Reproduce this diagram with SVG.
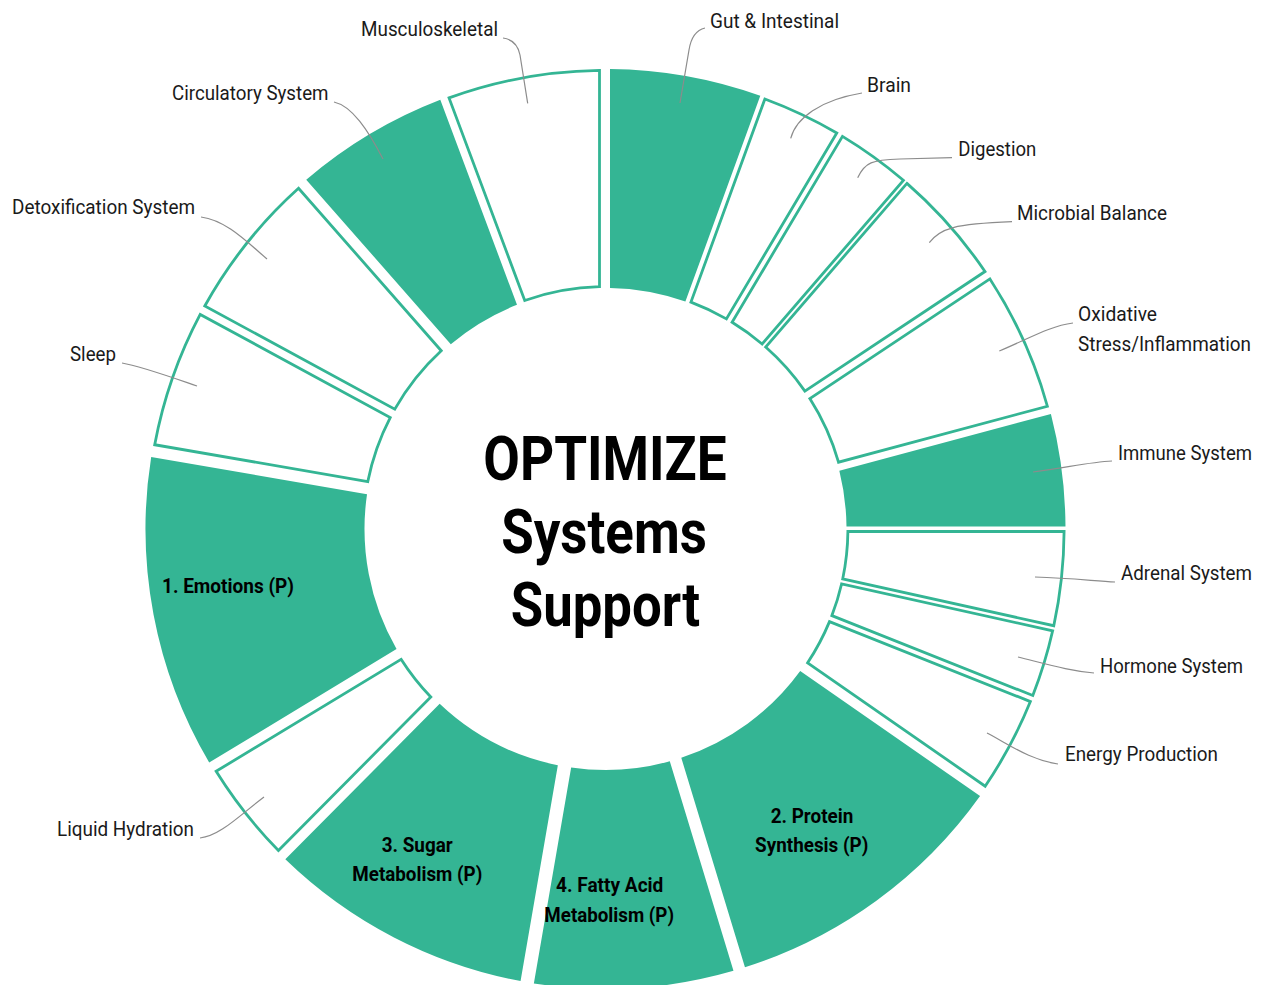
<svg xmlns="http://www.w3.org/2000/svg" width="1264" height="985" viewBox="0 0 1264 985">
<style>
.f{fill:#34b594;stroke:none}
.o{fill:#fff;stroke:#34b594;stroke-width:2.8;stroke-linejoin:miter}
.lbl{font-family:Roboto,"Liberation Sans",sans-serif;font-size:20px;fill:#1a1a1a}
.seg{font-family:Roboto,"Liberation Sans",sans-serif;font-size:21px;font-weight:700;fill:#000}
.ttl{font-family:Roboto,"Liberation Sans",sans-serif;font-size:62px;font-weight:700;fill:#000}
.ld{fill:none;stroke:#8c8c8c;stroke-width:1.2}
</style>
<rect width="1264" height="985" fill="#fff"/>
<g id="gut"><path class="f" d="M610,69.02 A460,460 0 0 1 760.29,95.82 L685.39,301.61 A241,241 0 0 0 610,288.04 Z"/></g>
<g id="brain"><path class="o" d="M764.89,98.98 A458.6,458.6 0 0 1 836.79,132.99 L726.41,318.9 A242.4,242.4 0 0 0 690.94,302.14 Z"/></g>
<g id="digestion"><path class="o" d="M842.47,136.37 A458.6,458.6 0 0 1 903.38,180.31 L762.1,343.98 A242.4,242.4 0 0 0 732.08,322.27 Z"/></g>
<g id="microbial"><path class="o" d="M906.94,183.39 A458.6,458.6 0 0 1 985,271.52 L804.91,391.17 A242.4,242.4 0 0 0 765.66,347.05 Z"/></g>
<g id="oxidative"><path class="o" d="M989.93,278.93 A458.6,458.6 0 0 1 1047.37,406.25 L838.52,462.21 A242.4,242.4 0 0 0 809.83,398.59 Z"/></g>
<g id="immune"><path class="f" d="M1050.9,414 A460,460 0 0 1 1065.49,526.5 L846.49,526.5 A241,241 0 0 0 839.34,470.69 Z"/></g>
<g id="adrenal"><path class="o" d="M1064.09,531.5 A458.6,458.6 0 0 1 1053.79,625.72 L842.7,578.92 A242.4,242.4 0 0 0 847.89,531.5 Z"/></g>
<g id="hormone"><path class="o" d="M1052.66,630.8 A458.6,458.6 0 0 1 1032.8,695.55 L831.9,615.6 A242.4,242.4 0 0 0 841.58,584 Z"/></g>
<g id="energy"><path class="o" d="M1030.39,701.59 A458.6,458.6 0 0 1 985.19,786.19 L807.63,662.79 A242.4,242.4 0 0 0 829.5,621.64 Z"/></g>
<g id="protein"><path class="f" d="M980.06,796.03 A460,460 0 0 1 744.95,967.35 L681.28,757.78 A241,241 0 0 0 800.21,671.02 Z"/>
<text class="seg" x="812" y="823.3" text-anchor="middle" textLength="82.6" lengthAdjust="spacingAndGlyphs">2. Protein</text>
<text class="seg" x="811.7" y="851.7" text-anchor="middle" textLength="113.3" lengthAdjust="spacingAndGlyphs">Synthesis (P)</text></g>
<g id="fatty"><path class="f" d="M733.47,970.84 A460,460 0 0 1 533.86,983.39 L571.15,767.54 A241,241 0 0 0 669.8,761.27 Z"/>
<text class="seg" x="609.7" y="892.3" text-anchor="middle" textLength="107.3" lengthAdjust="spacingAndGlyphs">4. Fatty Acid</text>
<text class="seg" x="609.2" y="921.7" text-anchor="middle" textLength="129.7" lengthAdjust="spacingAndGlyphs">Metabolism (P)</text></g>
<g id="sugar"><path class="f" d="M520.56,981.09 A460,460 0 0 1 285.33,859.29 L439.67,703.87 A241,241 0 0 0 557.84,765.24 Z"/>
<text class="seg" x="417.2" y="851.7" text-anchor="middle" textLength="71" lengthAdjust="spacingAndGlyphs">3. Sugar</text>
<text class="seg" x="417.3" y="880.7" text-anchor="middle" textLength="130" lengthAdjust="spacingAndGlyphs">Metabolism (P)</text></g>
<g id="liquid"><path class="o" d="M278.44,850.47 A458.6,458.6 0 0 1 216.13,771.3 L401.09,659.29 A242.4,242.4 0 0 0 430.8,697.05 Z"/></g>
<g id="emotions"><path class="f" d="M209.19,762.53 A460,460 0 0 1 151.18,456.92 L367.03,494.2 A241,241 0 0 0 396.54,649.06 Z"/>
<text class="seg" x="162" y="593.3" textLength="132" lengthAdjust="spacingAndGlyphs">1. Emotions (P)</text></g>
<g id="sleep"><path class="o" d="M154.71,444.74 A458.6,458.6 0 0 1 200.2,314.41 L390.22,417.58 A242.4,242.4 0 0 0 367.79,481.55 Z"/></g>
<g id="detox"><path class="o" d="M204.78,305.97 A458.6,458.6 0 0 1 298.53,188.29 L441.24,350.74 A242.4,242.4 0 0 0 394.8,409.14 Z"/></g>
<g id="circulatory"><path class="f" d="M306.24,179.65 A460,460 0 0 1 440.29,99.69 L516.99,304.84 A241,241 0 0 0 450.8,344.2 Z"/></g>
<g id="musculoskeletal"><path class="o" d="M449.03,97.92 A458.6,458.6 0 0 1 599.5,70.44 L599.5,286.67 A242.4,242.4 0 0 0 524.74,300.45 Z"/></g>
<g id="connectors">
<path class="ld" d="M680,103 L689,50 Q692,31 705,28"/>
<path class="ld" d="M790.7,138.3 C796,118 820,100 862,93"/>
<path class="ld" d="M857.7,177.7 C865,162 872,160 900,159 L952,157.7"/>
<path class="ld" d="M929.3,242.7 C940,228 955,224 1012,221.7"/>
<path class="ld" d="M999.3,351 C1030,338 1050,326 1073,323"/>
<path class="ld" d="M1033,472 C1070,467 1090,462 1112,461"/>
<path class="ld" d="M1035,577 C1070,578 1095,581 1115,582"/>
<path class="ld" d="M1018,657 C1050,665 1070,671 1094,673"/>
<path class="ld" d="M987,733 C1010,745 1030,760 1058,764"/>
<path class="ld" d="M264,797 C240,815 220,836 200,838"/>
<path class="ld" d="M122,363 C140,366 165,375 197,386"/>
<path class="ld" d="M201,217 C225,220 245,240 267,259"/>
<path class="ld" d="M334,102 C352,106 368,130 383,159"/>
<path class="ld" d="M527.7,103.3 L520,55 Q517,40 503,38"/>
</g>
<g id="labels">
<text class="lbl" x="710" y="28" textLength="129" lengthAdjust="spacingAndGlyphs">Gut &amp; Intestinal</text>
<text class="lbl" x="867" y="92.3" textLength="44" lengthAdjust="spacingAndGlyphs">Brain</text>
<text class="lbl" x="958.3" y="156" textLength="78" lengthAdjust="spacingAndGlyphs">Digestion</text>
<text class="lbl" x="1017" y="220" textLength="150" lengthAdjust="spacingAndGlyphs">Microbial Balance</text>
<text class="lbl" x="1078" y="321" textLength="79" lengthAdjust="spacingAndGlyphs">Oxidative</text>
<text class="lbl" x="1078" y="351" textLength="173" lengthAdjust="spacingAndGlyphs">Stress/Inflammation</text>
<text class="lbl" x="1118" y="460" textLength="134" lengthAdjust="spacingAndGlyphs">Immune System</text>
<text class="lbl" x="1121" y="580" textLength="131" lengthAdjust="spacingAndGlyphs">Adrenal System</text>
<text class="lbl" x="1100" y="673" textLength="143" lengthAdjust="spacingAndGlyphs">Hormone System</text>
<text class="lbl" x="1065" y="761" textLength="153" lengthAdjust="spacingAndGlyphs">Energy Production</text>
<text class="lbl" x="57" y="836" textLength="137" lengthAdjust="spacingAndGlyphs">Liquid Hydration</text>
<text class="lbl" x="70" y="361" textLength="46" lengthAdjust="spacingAndGlyphs">Sleep</text>
<text class="lbl" x="12" y="214" textLength="183" lengthAdjust="spacingAndGlyphs">Detoxification System</text>
<text class="lbl" x="172" y="100" textLength="156.5" lengthAdjust="spacingAndGlyphs">Circulatory System</text>
<text class="lbl" x="361" y="36" textLength="137" lengthAdjust="spacingAndGlyphs">Musculoskeletal</text>
</g>
<g id="title">
<text class="ttl" x="605" y="479.5" text-anchor="middle" textLength="243.4" lengthAdjust="spacingAndGlyphs">OPTIMIZE</text>
<text class="ttl" x="604" y="552.5" text-anchor="middle" textLength="205.7" lengthAdjust="spacingAndGlyphs">Systems</text>
<text class="ttl" x="605.4" y="625.5" text-anchor="middle" textLength="189.3" lengthAdjust="spacingAndGlyphs">Support</text>
</g>
</svg>
